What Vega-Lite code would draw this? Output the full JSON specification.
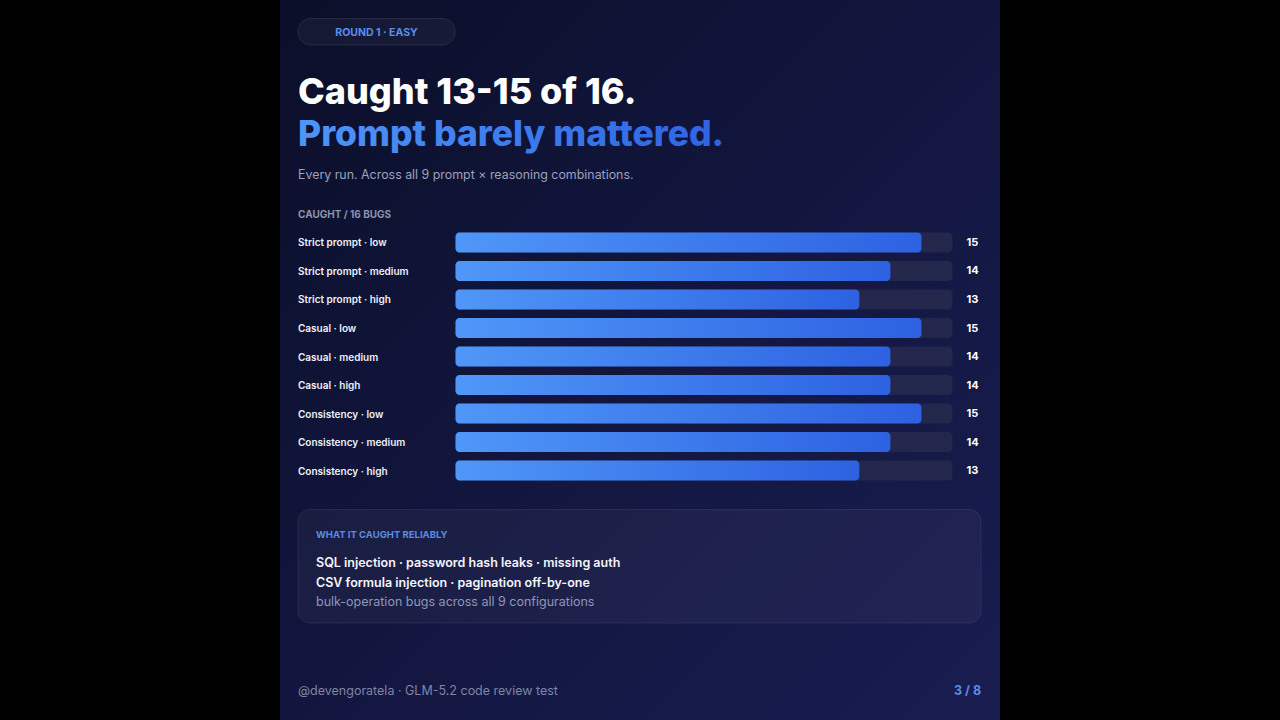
{
  "$schema": "https://vega.github.io/schema/vega-lite/v6.json",
  "width": 720,
  "height": 720,
  "autosize": {"type": "none"},
  "padding": {"left": 280, "right": 280, "top": 0, "bottom": 0},
  "background": "#000000",
  "config": {"view": {"stroke": null}},
  "data": {
    "values": [
      {"config": "Strict prompt · low", "caught": 15, "total": 16},
      {"config": "Strict prompt · medium", "caught": 14, "total": 16},
      {"config": "Strict prompt · high", "caught": 13, "total": 16},
      {"config": "Casual · low", "caught": 15, "total": 16},
      {"config": "Casual · medium", "caught": 14, "total": 16},
      {"config": "Casual · high", "caught": 14, "total": 16},
      {"config": "Consistency · low", "caught": 15, "total": 16},
      {"config": "Consistency · medium", "caught": 14, "total": 16},
      {"config": "Consistency · high", "caught": 13, "total": 16}
    ]
  },
  "resolve": {"scale": {"y": "independent"}},
  "layer": [
    {
      "data": {"values": [{}]},
      "layer": [
        {
          "mark": {"type": "rect", "fill": {"gradient": "linear", "x1": 0, "y1": 0, "x2": 1, "y2": 1, "stops": [{"offset": 0, "color": "#0b0f29"}, {"offset": 0.5, "color": "#12163f"}, {"offset": 1, "color": "#191d50"}]}},
          "encoding": {
            "x": {"datum": -5.65, "type": "quantitative", "scale": {"domain": [-5.65, 17.529], "nice": false, "zero": false}, "axis": null},
            "x2": {"datum": 17.529},
            "y": {"datum": 0, "type": "quantitative", "scale": {"domain": [0, 720], "reverse": true, "nice": false, "zero": false}, "axis": null},
            "y2": {"datum": 720}
          }
        },
        {
          "mark": {"type": "rect", "cornerRadius": 13, "fill": "#ffffff", "fillOpacity": 0.04, "stroke": "#ffffff", "strokeOpacity": 0.1, "strokeWidth": 1},
          "encoding": {
            "x": {"datum": -5.0704, "type": "quantitative"},
            "x2": {"datum": -0.016},
            "y": {"datum": 18.5, "type": "quantitative"},
            "y2": {"datum": 45}
          }
        },
        {
          "mark": {"type": "text", "text": "ROUND 1 · EASY", "font": "Inter", "fontSize": 10.5, "fontWeight": 700, "fill": "#5b8def", "align": "center", "baseline": "alphabetic"},
          "encoding": {
            "x": {"datum": -2.543, "type": "quantitative"},
            "y": {"datum": 35.6, "type": "quantitative"}
          }
        },
        {
          "mark": {"type": "text", "text": "Caught 13-15 of 16.", "font": "Inter", "fontSize": 36, "fontWeight": 800, "fill": "#ffffff", "align": "left", "baseline": "alphabetic"},
          "encoding": {
            "x": {"datum": -5.0704, "type": "quantitative"},
            "y": {"datum": 103.5, "type": "quantitative"}
          }
        },
        {
          "mark": {"type": "text", "text": "Prompt barely mattered.", "font": "Inter", "fontSize": 35.5, "fontWeight": 800, "fill": {"gradient": "linear", "stops": [{"offset": 0, "color": "#4e95f8"}, {"offset": 1, "color": "#2e63e2"}]}, "align": "left", "baseline": "alphabetic"},
          "encoding": {
            "x": {"datum": -5.0704, "type": "quantitative"},
            "y": {"datum": 146, "type": "quantitative"}
          }
        },
        {
          "mark": {"type": "text", "text": "Every run. Across all 9 prompt × reasoning combinations.", "font": "Inter", "fontSize": 12.4, "fontWeight": 400, "fill": "#9ba1bf", "align": "left", "baseline": "alphabetic"},
          "encoding": {
            "x": {"datum": -5.0704, "type": "quantitative"},
            "y": {"datum": 178.5, "type": "quantitative"}
          }
        },
        {
          "mark": {"type": "text", "text": "CAUGHT / 16 BUGS", "font": "Inter", "fontSize": 10, "fontWeight": 700, "fill": "#8d93ad", "align": "left", "baseline": "alphabetic"},
          "encoding": {
            "x": {"datum": -5.0704, "type": "quantitative"},
            "y": {"datum": 217.7, "type": "quantitative"}
          }
        },
        {
          "mark": {"type": "rect", "cornerRadius": 12, "fill": "#ffffff", "fillOpacity": 0.04, "stroke": "#ffffff", "strokeOpacity": 0.08, "strokeWidth": 1},
          "encoding": {
            "x": {"datum": -5.0704, "type": "quantitative"},
            "x2": {"datum": 16.918},
            "y": {"datum": 509.5, "type": "quantitative"},
            "y2": {"datum": 623}
          }
        },
        {
          "mark": {"type": "text", "text": "WHAT IT CAUGHT RELIABLY", "font": "Inter", "fontSize": 9.5, "fontWeight": 700, "fill": "#5b8be3", "align": "left", "baseline": "alphabetic"},
          "encoding": {
            "x": {"datum": -4.4909, "type": "quantitative"},
            "y": {"datum": 537.5, "type": "quantitative"}
          }
        },
        {
          "mark": {"type": "text", "text": "SQL injection · password hash leaks · missing auth", "font": "Inter", "fontSize": 12.5, "fontWeight": 600, "fill": "#f4f5fa", "align": "left", "baseline": "alphabetic"},
          "encoding": {
            "x": {"datum": -4.4909, "type": "quantitative"},
            "y": {"datum": 566.5, "type": "quantitative"}
          }
        },
        {
          "mark": {"type": "text", "text": "CSV formula injection · pagination off-by-one", "font": "Inter", "fontSize": 12.5, "fontWeight": 600, "fill": "#f4f5fa", "align": "left", "baseline": "alphabetic"},
          "encoding": {
            "x": {"datum": -4.4909, "type": "quantitative"},
            "y": {"datum": 586.5, "type": "quantitative"}
          }
        },
        {
          "mark": {"type": "text", "text": "bulk-operation bugs across all 9 configurations", "font": "Inter", "fontSize": 12.5, "fontWeight": 400, "fill": "#9096b5", "align": "left", "baseline": "alphabetic"},
          "encoding": {
            "x": {"datum": -4.4909, "type": "quantitative"},
            "y": {"datum": 605.5, "type": "quantitative"}
          }
        },
        {
          "mark": {"type": "text", "text": "@devengoratela · GLM-5.2 code review test", "font": "Inter", "fontSize": 12.5, "fontWeight": 400, "fill": "#7f85a6", "align": "left", "baseline": "alphabetic"},
          "encoding": {
            "x": {"datum": -5.0704, "type": "quantitative"},
            "y": {"datum": 694.5, "type": "quantitative"}
          }
        },
        {
          "mark": {"type": "text", "text": "3 / 8", "font": "Inter", "fontSize": 12.5, "fontWeight": 700, "fill": "#5b8def", "align": "right", "baseline": "alphabetic"},
          "encoding": {
            "x": {"datum": 16.918, "type": "quantitative"},
            "y": {"datum": 694.5, "type": "quantitative"}
          }
        }
      ]
    },
    {
      "encoding": {
        "y": {
          "field": "config",
          "type": "nominal",
          "sort": null,
          "axis": null,
          "scale": {
            "type": "band",
            "domain": ["Strict prompt · low", "Strict prompt · medium", "Strict prompt · high", "Casual · low", "Casual · medium", "Casual · high", "Consistency · low", "Consistency · medium", "Consistency · high"],
            "range": [232.5, 480.5],
            "paddingInner": 0.29825,
            "paddingOuter": 0
          }
        }
      },
      "layer": [
        {
          "mark": {"type": "bar", "cornerRadius": 4, "color": "#23274b"},
          "encoding": {
            "x": {"field": "total", "type": "quantitative", "scale": {"domain": [-5.65, 17.529], "nice": false, "zero": false}, "axis": null},
            "x2": {"datum": 0}
          }
        },
        {
          "mark": {"type": "bar", "cornerRadius": 4, "color": {"gradient": "linear", "stops": [{"offset": 0, "color": "#4f97f8"}, {"offset": 1, "color": "#2d61e1"}]}},
          "encoding": {
            "x": {"field": "caught", "type": "quantitative"},
            "x2": {"datum": 0}
          }
        },
        {
          "mark": {"type": "text", "font": "Inter", "fontSize": 10, "fontWeight": 600, "fill": "#eef0f7", "align": "left", "baseline": "middle", "dy": 1},
          "encoding": {
            "x": {"datum": -5.0704, "type": "quantitative"},
            "text": {"field": "config"}
          }
        },
        {
          "mark": {"type": "text", "font": "Inter", "fontSize": 11, "fontWeight": 700, "fill": "#ffffff", "align": "left", "baseline": "middle", "dy": 0.5},
          "encoding": {
            "x": {"datum": 16.451, "type": "quantitative"},
            "text": {"field": "caught"}
          }
        }
      ]
    }
  ]
}
